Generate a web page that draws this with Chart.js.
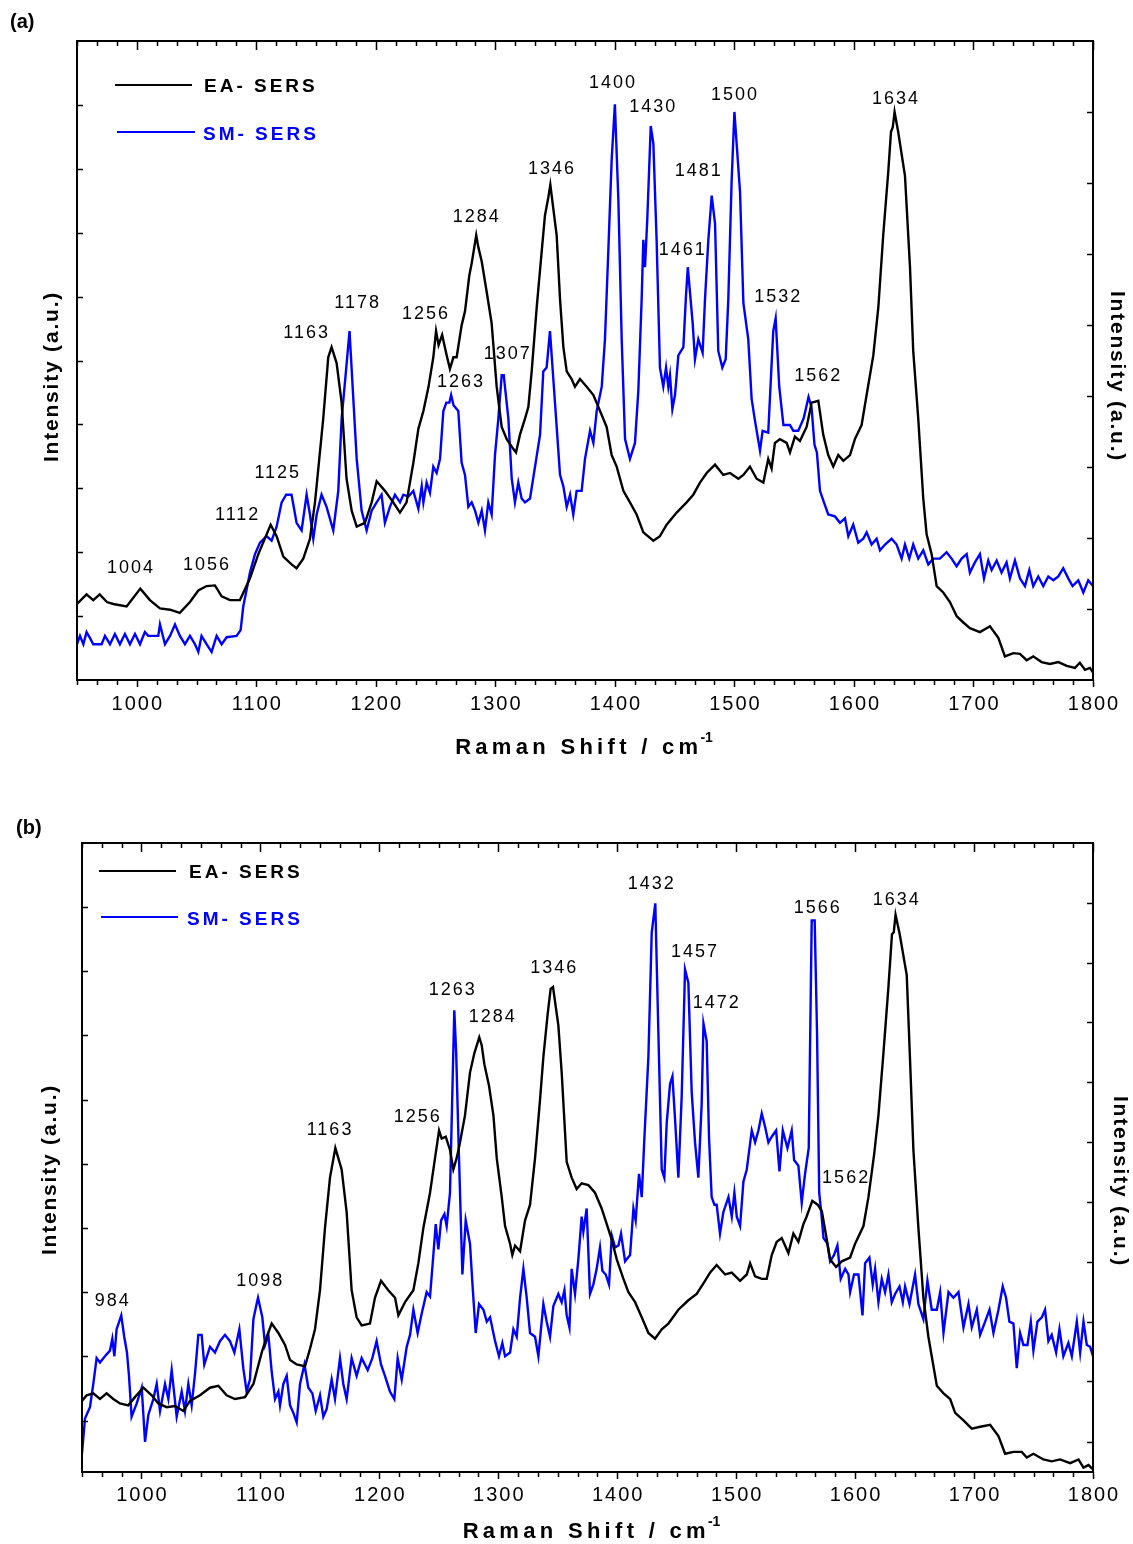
<!DOCTYPE html>
<html>
<head>
<meta charset="utf-8">
<title>Raman spectra</title>
<script src="https://cdn.jsdelivr.net/npm/chart.js@4/dist/chart.umd.min.js"></script>
<style>
  body { margin: 0; background: #fff; }
  .panel { position: absolute; left: 0; }
  #panelA { top: 0; }
  #panelB { top: 772px; }
</style>
</head>
<body>
<canvas id="panelA" class="panel" width="1133" height="772"></canvas>
<canvas id="panelB" class="panel" width="1133" height="772"></canvas>
<script>
// ---------- panel (a) ----------
let aEaX = [950, 958, 963.6, 969, 975, 980.4, 991.5, 1003, 1011, 1019.4, 1027.8, 1036, 1044.5, 1051.5, 1058.4, 1065.4, 1071, 1078, 1086.3, 1094.7,
  1101.7, 1112, 1117, 1122.6, 1129.5, 1133.7, 1139.3, 1144.9, 1149.1, 1156, 1160.2, 1163, 1167.2, 1171.4, 1175.5, 1179.8, 1184, 1190.9, 1196.5, 1200.7,
  1207.6, 1214.6, 1220.2, 1225.7, 1231.4, 1235.6, 1239.8, 1244, 1248.1, 1250.4, 1252.5, 1255.5, 1259.3, 1262, 1264.9, 1267.6, 1271.8, 1274.6, 1278.2, 1280.2,
  1284, 1285.8, 1288.6, 1292.7, 1296.9, 1301.1, 1305.3, 1309.5, 1313.7, 1317.3, 1320.6, 1324.8, 1327.6, 1330.4, 1334.6, 1338.8, 1341.5, 1344.3, 1346, 1351.3,
  1354.1, 1356.9, 1359.7, 1363.8, 1366.6, 1370.8, 1376.4, 1382, 1387.6, 1393.1, 1397.3, 1401.5, 1407.1, 1412.6, 1418.2, 1423.8, 1432.2, 1437.7, 1443.3, 1451.7,
  1460, 1465.6, 1471.2, 1476.8, 1483.8, 1490.7, 1496.3, 1503.3, 1507.5, 1513, 1518.6, 1524.2, 1528.3, 1531.1, 1533.9, 1538.1, 1543.7, 1546.5, 1550.6, 1554.8,
  1560.4, 1564.6, 1570.2, 1574.3, 1578.5, 1582.7, 1586.9, 1591.1, 1596.7, 1600.8, 1606.4, 1610.6, 1616.2, 1620.4, 1624.5, 1628.7, 1631, 1632.5, 1634, 1637,
  1642.7, 1646.9, 1649.6, 1653.8, 1658, 1660.8, 1665, 1669.2, 1674.7, 1680.3, 1685.9, 1691.5, 1697, 1705.4, 1713.8, 1720.8, 1726.3, 1733.3, 1738.9, 1744.5,
  1750, 1757, 1764, 1771, 1778, 1784.9, 1789, 1793.3, 1797.4, 1800]
let aEaY = [11.9, 13.4, 12.5, 13.4, 12.2, 11.9, 11.5, 14.3, 12.5, 11.2, 11.0, 10.5, 12.2, 14.0, 14.7, 14.8, 13.1, 12.5, 12.5, 15.9,
  19.7, 24.3, 22.5, 19.3, 18.1, 17.5, 19.0, 22.1, 27.8, 40.9, 50.5, 52.1, 49.6, 43.4, 31.5, 26.5, 24.0, 24.6, 27.8, 31.1,
  29.6, 27.8, 26.2, 27.8, 34.0, 39.3, 42.1, 45.8, 50.5, 54.6, 52.4, 54.0, 50.8, 48.7, 50.5, 50.5, 55.5, 57.7, 63.3, 65.2,
  69.6, 67.7, 65.5, 60.8, 55.8, 45.9, 39.6, 37.7, 36.5, 35.6, 38.4, 40.9, 42.7, 48.3, 58.3, 67.1, 72.7, 75.5, 77.5, 69.6,
  59.6, 52.1, 48.3, 47.1, 45.9, 47.1, 45.9, 44.6, 42.1, 39.6, 35.2, 33.4, 29.6, 27.8, 25.9, 23.1, 21.8, 22.5, 24.3, 26.2,
  27.8, 29.0, 30.9, 32.4, 33.7, 32.1, 32.4, 31.5, 32.1, 33.4, 31.5, 30.9, 34.6, 33.1, 37.1, 37.7, 37.1, 35.6, 38.1, 37.4,
  39.6, 43.4, 43.7, 38.4, 35.2, 33.4, 35.2, 34.3, 35.2, 37.7, 39.9, 44.6, 50.8, 58.3, 69.6, 79.5, 85.8, 86.5, 88.9, 85.8,
  78.9, 64.6, 51.5, 40.9, 28.4, 22.8, 19.7, 14.7, 13.7, 12.2, 10.0, 9.0, 8.1, 7.5, 8.4, 6.6, 3.7, 4.2, 4.1, 3.1,
  3.7, 2.8, 2.5, 2.8, 2.2, 1.9, 2.7, 1.6, 1.9, 1.2]

let aSmX = [950, 952.5, 955.3, 958, 960.8, 963.6, 970.6, 973.4, 977.6, 981.7, 985.9, 990.1, 994.3, 998.5, 1002.7, 1006.8, 1009.6, 1018, 1019.4, 1023.6,
  1027.8, 1032, 1036.1, 1040.3, 1044.5, 1048.7, 1051.5, 1054.2, 1058.4, 1062.6, 1066.8, 1071, 1075.2, 1083.5, 1086.9, 1089.1, 1094.7, 1098.9, 1103.1, 1108.6,
  1112.8, 1117, 1121.2, 1125, 1129.5, 1133.7, 1137.9, 1142.1, 1144.9, 1147.7, 1150.5, 1154.6, 1158.8, 1164.4, 1168.6, 1171.4, 1175, 1178, 1180.6, 1184,
  1188.1, 1192.3, 1196.5, 1200.7, 1204.8, 1207.6, 1211.8, 1216, 1220.2, 1223, 1227.2, 1231.4, 1235.6, 1238.4, 1239.8, 1242.5, 1245.3, 1248.1, 1250.9, 1253.7,
  1256.5, 1259, 1261.5, 1263, 1265, 1269, 1271.8, 1274.6, 1277.4, 1280.2, 1283, 1285.8, 1288.6, 1291.3, 1294.1, 1296.9, 1299.7, 1302.5, 1305.3, 1307,
  1310.9, 1313.7, 1316.4, 1319.2, 1322, 1324.8, 1329, 1333.2, 1337.4, 1340.1, 1342.9, 1345.7, 1348.5, 1351.3, 1354.1, 1356.9, 1359.7, 1362.5, 1365.2, 1368,
  1372.2, 1375, 1379.2, 1382, 1384.8, 1389, 1391.7, 1394.5, 1397.3, 1400, 1402.9, 1405.7, 1408.5, 1412.6, 1416.8, 1419.6, 1422.4, 1423.8, 1425.2, 1427.1,
  1430, 1432.2, 1434.9, 1437.7, 1440.5, 1442.8, 1444.7, 1446.1, 1448.1, 1450.3, 1453.1, 1457.3, 1459.5, 1461, 1465.1, 1467, 1469.8, 1473.4, 1475.4, 1478.2,
  1481, 1483.8, 1486.5, 1489.9, 1492.7, 1494.9, 1497.7, 1500, 1504.7, 1507.5, 1511.6, 1514.4, 1517.2, 1521.4, 1523.6, 1528.3, 1530.5, 1532.5, 1534.5, 1537.5,
  1541, 1546.5, 1549.3, 1553.4, 1556.2, 1558, 1562, 1564.5, 1567, 1569, 1571.6, 1574.9, 1578.5, 1584.1, 1588.3, 1592.5, 1595.3, 1599.4, 1603.6, 1607.8,
  1610.6, 1614.8, 1619, 1621.8, 1626, 1631.5, 1635.7, 1639.9, 1642.7, 1646.3, 1649.6, 1653.8, 1658, 1662.2, 1666.4, 1671.9, 1677.5, 1681.7, 1685.9, 1690.1,
  1694.3, 1697, 1701.2, 1705.4, 1708.8, 1712.4, 1715.2, 1719.4, 1723.5, 1727.7, 1730.5, 1734.7, 1738.9, 1743.1, 1746.7, 1750, 1754.2, 1758.4, 1762.6, 1766.8,
  1771, 1775.1, 1779.3, 1782.9, 1787.7, 1791.9, 1796, 1800]
let aSmY = [5.6, 6.9, 5.6, 7.5, 6.6, 5.6, 5.6, 6.9, 5.6, 7.2, 5.6, 7.2, 5.6, 7.2, 5.6, 7.5, 6.9, 6.9, 8.7, 5.6,
  6.9, 8.7, 6.9, 5.6, 6.9, 5.6, 4.4, 6.9, 5.6, 4.4, 6.9, 5.6, 6.7, 6.9, 7.8, 11.5, 16.8, 19.7, 21.5, 22.5,
  21.8, 24.0, 27.8, 29.0, 29.0, 24.6, 23.4, 29.0, 25.9, 22.1, 25.9, 29.0, 27.1, 23.4, 29.6, 40.9, 48.3, 54.6, 45.9, 34.6,
  26.5, 23.4, 26.5, 27.8, 29.0, 24.6, 27.1, 29.0, 27.8, 29.0, 28.7, 29.6, 26.8, 30.3, 27.8, 30.9, 29.3, 33.4, 32.4, 34.6,
  42.1, 43.4, 43.4, 44.6, 43.0, 42.1, 34.0, 32.1, 27.1, 27.8, 26.5, 24.6, 26.5, 23.4, 27.8, 25.9, 35.2, 40.9, 47.7, 47.7,
  40.9, 31.5, 27.8, 30.9, 28.4, 27.8, 28.4, 33.4, 38.4, 48.3, 48.9, 54.6, 47.1, 39.6, 32.1, 30.3, 27.1, 29.0, 25.9, 29.6,
  29.6, 34.6, 39.0, 37.1, 42.1, 45.9, 53.3, 67.1, 81.4, 90.1, 75.2, 53.3, 37.7, 34.6, 37.1, 45.2, 59.6, 68.9, 64.6, 72.1,
  86.7, 83.9, 68.9, 48.9, 45.9, 48.9, 45.9, 47.7, 42.4, 44.6, 50.8, 52.1, 60.2, 64.6, 55.8, 50.2, 53.3, 51.2, 59.6, 68.9,
  75.8, 71.4, 51.5, 48.9, 50.2, 59.6, 78.3, 88.9, 76.4, 59.0, 53.3, 44.0, 40.6, 35.9, 39.0, 38.7, 47.1, 54.6, 56.6, 45.9,
  39.9, 39.9, 39.0, 39.0, 40.2, 41.0, 44.3, 42.7, 36.8, 35.6, 29.6, 27.8, 25.9, 25.6, 24.6, 25.3, 22.5, 24.3, 21.5, 22.1,
  23.1, 21.2, 22.1, 20.3, 21.2, 22.1, 21.2, 19.0, 21.2, 19.0, 21.2, 19.0, 20.3, 18.1, 19.0, 19.0, 20.0, 19.0, 17.8, 19.0,
  19.7, 16.8, 18.4, 19.7, 15.9, 18.7, 17.2, 18.7, 16.8, 18.4, 15.9, 18.7, 15.9, 14.7, 17.2, 14.7, 16.2, 14.7, 16.2, 15.6,
  16.2, 17.5, 15.9, 14.7, 15.6, 13.7, 15.6, 14.7]

// peak labels: text, then where the label sits (cm-1, intensity)
let aPeaks = [['1004', 994.3, 17.6], ['1056', 1057.9, 18.0], ['1112', 1083.6, 25.8], ['1125', 1117.1, 32.4], ['1163', 1141.3, 54.3],
  ['1178', 1184, 59.0], ['1256', 1241.1, 57.2], ['1263', 1270.4, 46.6], ['1284', 1283.6, 72.5], ['1307', 1309.5, 51.0],
  ['1346', 1346.6, 80.0], ['1400', 1397.6, 93.5], ['1430', 1431.3, 89.7], ['1461', 1455.9, 67.3], ['1481', 1469.3, 79.6],
  ['1500', 1499.7, 91.5], ['1532', 1535.9, 59.9], ['1562', 1569.3, 47.6], ['1634', 1634.4, 90.9]]

// ---------- panel (b) ----------
let bEaX = [950, 953.9, 959.5, 965.1, 970.7, 976.3, 981.9, 988.9, 994.5, 1001.6, 1008.6, 1014.2, 1021.2, 1028.2, 1035.2, 1040.8, 1049.2, 1057.6, 1064.6, 1071.6,
  1078.6, 1087, 1094.1, 1101.1, 1105.3, 1109.5, 1115.1, 1120.7, 1124.9, 1130.5, 1137.5, 1141.7, 1145.9, 1150.1, 1154.3, 1158.5, 1163, 1168.3, 1172.5, 1176.7,
  1180.9, 1185.1, 1192.1, 1196.3, 1201.4, 1207.5, 1213.2, 1216, 1221.6, 1228.6, 1232.8, 1237, 1242.6, 1246.8, 1250.2, 1252.4, 1255.8, 1259.4, 1262.2, 1265,
  1267.8, 1272, 1276.2, 1279.9, 1284, 1286, 1288.3, 1292.2, 1295.9, 1298.7, 1302.9, 1305.7, 1309.9, 1311.8, 1314.1, 1318.3, 1322.5, 1326.7, 1330.9, 1335.1,
  1337.9, 1341.5, 1344, 1346, 1350.5, 1353.3, 1357.5, 1361.7, 1365.9, 1370.1, 1375.7, 1381.3, 1386.9, 1391.2, 1395.4, 1399.6, 1405.2, 1409.4, 1415, 1420.6,
  1426.2, 1431.8, 1437.4, 1443, 1451.4, 1459.8, 1466.8, 1473.8, 1478, 1483.6, 1490.7, 1496.3, 1503.3, 1508.9, 1511.7, 1515.9, 1521.5, 1525.7, 1529.9, 1534.1,
  1538.3, 1543.9, 1548.1, 1552.3, 1556.5, 1559, 1564, 1568.5, 1572, 1575.6, 1579, 1584, 1588.8, 1595.8, 1600, 1607, 1611.2, 1616, 1619.6, 1623.8,
  1628, 1631, 1632.5, 1634, 1637.5, 1643.4, 1646.2, 1649, 1653.2, 1657.4, 1661.6, 1664.4, 1668.7, 1674.3, 1679.9, 1684.1, 1691.1, 1698.1, 1705.1, 1713.5,
  1720.5, 1726.1, 1733.1, 1740.1, 1744.3, 1749.9, 1758.3, 1765.3, 1772.3, 1780.8, 1787.8, 1792, 1796.2, 1800]
let bEaY = [11.3, 12.2, 12.5, 11.6, 12.5, 11.6, 10.9, 10.6, 11.9, 13.4, 12.2, 10.9, 10.3, 10.5, 9.7, 11.3, 12.2, 13.4, 13.7, 12.2,
  11.6, 11.9, 14.0, 19.0, 21.5, 23.6, 22.1, 20.2, 17.8, 17.1, 16.8, 19.6, 22.7, 28.9, 38.8, 46.8, 51.5, 48.1, 41.3, 28.9,
  24.6, 23.3, 23.6, 27.7, 30.4, 28.9, 27.7, 24.9, 27.0, 28.9, 33.2, 38.8, 44.4, 49.9, 54.3, 53.0, 53.3, 51.2, 48.1, 49.9,
  52.4, 56.7, 63.5, 66.6, 69.1, 67.9, 64.8, 61.4, 56.7, 49.9, 43.7, 39.1, 36.3, 34.5, 36.0, 35.1, 40.0, 42.5, 49.9, 59.2,
  66.0, 72.8, 76.8, 77.1, 71.0, 63.5, 49.3, 46.8, 45.0, 45.9, 45.6, 44.4, 41.9, 39.4, 36.9, 33.8, 30.7, 28.6, 27.0, 24.6,
  22.1, 21.2, 22.7, 23.6, 25.8, 27.3, 28.3, 30.4, 31.7, 32.9, 31.4, 31.7, 30.4, 31.4, 33.2, 31.1, 30.7, 30.7, 34.5, 36.6,
  37.2, 34.8, 37.9, 36.6, 39.4, 40.5, 43.1, 42.5, 41.5, 37.6, 33.8, 32.6, 33.5, 34.1, 36.3, 39.1, 43.7, 50.5, 56.7, 66.6,
  77.1, 85.5, 85.8, 88.6, 85.5, 79.0, 65.4, 51.2, 38.8, 27.7, 21.5, 18.4, 13.7, 12.5, 11.6, 9.4, 8.2, 6.9, 7.2, 7.5,
  5.7, 2.9, 3.2, 3.2, 2.3, 2.9, 2.0, 1.7, 2.0, 1.4, 2.0, 0.7, 1.1, 0.4]

let bSmX = [950, 952.5, 956.7, 959.5, 962.3, 965.1, 969.3, 973.5, 975.5, 977.2, 979.1, 983, 985.5, 987.8, 989.5, 991.7, 996, 1000.2, 1003, 1005.8,
  1010, 1012.8, 1015.6, 1019.8, 1022.6, 1025.4, 1029.6, 1033.8, 1036.6, 1039.4, 1042.2, 1045, 1047.8, 1050.6, 1052.8, 1057.6, 1061.8, 1066, 1070.2, 1074.4,
  1078.1, 1082.3, 1085.6, 1088.4, 1091.2, 1094.1, 1096.8, 1098, 1101.6, 1103.9, 1106.7, 1109.5, 1112.3, 1115.1, 1116.5, 1119.3, 1122.1, 1124.9, 1127.7, 1130.5,
  1133.3, 1137, 1140.3, 1143.7, 1146.5, 1150.1, 1152.9, 1155.7, 1159.9, 1162.7, 1166.9, 1169.7, 1172.5, 1176.7, 1180.9, 1185.1, 1190.2, 1194.1, 1197.7, 1201.4,
  1204.7, 1208.9, 1212.6, 1215.4, 1218.8, 1223, 1225.8, 1228.6, 1232.2, 1235.6, 1239.8, 1242.6, 1245.4, 1247.4, 1249.6, 1251.9, 1254.7, 1256.6, 1259.4, 1263,
  1264.6, 1266.6, 1269.8, 1272.6, 1276.2, 1278.2, 1281, 1283.8, 1287.5, 1290.3, 1293.1, 1297.3, 1300.6, 1303.4, 1305.7, 1309.9, 1312.7, 1315.5, 1318.3, 1321.1,
  1323.9, 1326.7, 1330.9, 1333.7, 1337.9, 1340.7, 1343.5, 1346.3, 1350.5, 1353.3, 1355.6, 1357.5, 1359.8, 1361.7, 1364.5, 1367.3, 1370.1, 1371.5, 1374.3, 1377.1,
  1379.9, 1382.7, 1385.5, 1387.5, 1390.3, 1393.1, 1395.4, 1398.2, 1401, 1403.2, 1406.6, 1410.8, 1413.6, 1415.5, 1418.3, 1420.6, 1422.8, 1426.2, 1429, 1432,
  1434.6, 1437.4, 1439.6, 1441.6, 1444.4, 1446.4, 1448.6, 1451.4, 1454.2, 1457, 1459.8, 1462.6, 1465.4, 1468.2, 1471, 1472.5, 1475.2, 1477.2, 1479.4, 1481.7,
  1483.6, 1486.4, 1489.2, 1493.5, 1496.3, 1498.5, 1500.5, 1503.3, 1506.1, 1508.9, 1513.1, 1515.9, 1518.7, 1521.5, 1524.3, 1527.1, 1529.9, 1533.6, 1536.4, 1539.2,
  1543.1, 1546.7, 1548.7, 1552.3, 1555.1, 1557.9, 1561, 1563.5, 1566, 1568, 1569.8, 1571.5, 1573.4, 1576.7, 1579, 1582.3, 1585.1, 1587.9, 1591.6, 1594.4,
  1595.8, 1599.1, 1602.8, 1606.2, 1608.4, 1612, 1614.8, 1616.8, 1619.6, 1622.4, 1625.2, 1628, 1630.8, 1633.6, 1637.3, 1640.1, 1642, 1645.7, 1650.4, 1653.2,
  1657.4, 1660.8, 1664.4, 1668.7, 1671.5, 1674.3, 1678.5, 1682.7, 1686.9, 1691.1, 1695.3, 1698.1, 1702.3, 1705.1, 1709.3, 1713, 1716.3, 1720.5, 1724.1, 1726.9,
  1729.7, 1733.1, 1735.9, 1738.7, 1741.5, 1744.9, 1747.7, 1749.9, 1753.3, 1757, 1759.7, 1762.5, 1765.3, 1769, 1771.8, 1775.1, 1779.3, 1782.2, 1786.4, 1789.2,
  1792, 1794.8, 1797.6, 1800]
let bSmY = [2.9, 8.5, 10.3, 14.0, 18.1, 17.4, 18.4, 19.3, 21.2, 18.4, 22.7, 24.9, 21.5, 19.0, 15.3, 8.8, 10.9, 13.4, 4.8, 9.1,
  11.6, 14.0, 9.7, 14.0, 11.6, 16.2, 8.8, 12.8, 9.7, 14.0, 10.6, 15.6, 21.8, 21.8, 17.1, 19.9, 19.0, 20.8, 21.8, 20.8,
  19.0, 22.7, 16.5, 12.8, 14.7, 24.3, 26.7, 27.7, 24.6, 20.2, 21.8, 15.9, 11.6, 12.8, 10.6, 14.0, 15.3, 10.6, 9.4, 7.9,
  14.0, 17.1, 13.4, 12.5, 9.7, 12.2, 8.8, 10.0, 14.7, 11.6, 18.1, 14.0, 11.6, 18.1, 15.3, 18.1, 16.2, 18.1, 20.8, 17.1,
  15.3, 12.8, 11.6, 18.1, 14.7, 19.9, 21.8, 25.8, 22.1, 25.2, 28.6, 27.9, 34.5, 39.4, 35.4, 40.0, 41.0, 39.1, 44.4, 73.4,
  66.6, 52.4, 31.4, 40.0, 36.3, 30.1, 22.1, 26.7, 25.8, 23.9, 24.6, 20.8, 18.4, 20.5, 18.4, 19.0, 22.7, 21.5, 27.7, 32.3,
  27.7, 22.1, 21.5, 18.4, 26.7, 23.9, 21.5, 26.4, 28.3, 27.0, 28.9, 24.9, 23.0, 32.3, 28.3, 33.8, 40.6, 38.2, 41.9, 28.3,
  29.8, 32.3, 35.7, 32.0, 31.4, 29.8, 37.6, 35.7, 36.0, 37.9, 33.5, 34.5, 41.9, 40.0, 47.4, 43.7, 53.0, 66.0, 85.8, 90.4,
  69.7, 48.1, 46.8, 55.5, 61.7, 62.9, 56.1, 46.8, 59.8, 79.9, 77.8, 60.4, 52.4, 46.8, 58.6, 71.3, 68.5, 53.0, 43.7, 42.5,
  42.5, 37.9, 41.3, 43.7, 40.6, 44.4, 40.6, 39.1, 46.2, 48.1, 54.3, 52.4, 54.3, 57.0, 54.9, 52.4, 53.3, 54.3, 47.8, 54.3,
  51.5, 54.3, 49.6, 48.7, 42.8, 47.4, 51.5, 87.7, 87.7, 69.7, 44.4, 41.3, 37.2, 36.3, 33.5, 34.5, 36.0, 30.7, 32.3, 31.4,
  28.6, 31.4, 31.4, 24.9, 33.2, 34.1, 29.8, 32.3, 27.0, 30.7, 28.6, 31.4, 27.0, 28.3, 29.5, 27.0, 29.5, 26.7, 31.4, 26.7,
  24.3, 30.4, 25.8, 25.8, 28.6, 22.1, 28.6, 27.7, 28.6, 23.0, 26.7, 23.0, 25.8, 21.8, 23.9, 25.8, 22.1, 25.8, 29.5, 27.7,
  23.9, 23.6, 16.5, 22.1, 20.2, 20.2, 23.9, 19.3, 23.9, 24.6, 25.8, 20.8, 21.8, 19.0, 22.7, 18.4, 20.5, 18.4, 23.9, 19.0,
  23.9, 20.2, 19.9, 18.4]

let bPeaks = [['984', 975, 27.2], ['1098', 1099.1, 30.3], ['1163', 1157.7, 54.3], ['1256', 1231.4, 56.4], ['1263', 1260.8, 76.7],
  ['1284', 1294.5, 72.3], ['1346', 1346.3, 80.1], ['1432', 1428.1, 93.4], ['1457', 1464.6, 82.6], ['1472', 1482.8, 74.5],
  ['1566', 1567.7, 89.7], ['1562', 1591.6, 46.7], ['1634', 1634.1, 90.9]]

// axis ticks
let xLabels = [1000, 1100, 1200, 1300, 1400, 1500, 1600, 1700, 1800]
let aLeftTicks = [10, 20, 30, 40, 50, 60, 70, 80, 90]
let aRightTicks = [11.1, 22.2, 33.3, 44.4, 55.6, 66.7, 77.8, 88.9]
let bLeftTicks = [8.1, 18.4, 28.6, 38.8, 49.0, 59.1, 69.5, 79.7, 89.8]
let bRightTicks = [4.8, 14.4, 23.9, 33.4, 43, 52.5, 62, 71.5, 81, 90.5]

let FONT = "'Liberation Sans', Arial, sans-serif"

function pts(xs, ys) {
    return xs.map((x, i) => ({ x: x, y: ys[i] }))
}

function spaced(ctx, text, x, y, align) {
    // canvas letterSpacing also pads after the last glyph, take it back off when centring
    let w = ctx.measureText(text).width
    let sp = parseFloat(ctx.letterSpacing) || 0
    let start = x
    if (align == 'center') start = x - (w - sp) / 2
    ctx.textAlign = 'left'
    ctx.fillText(text, start, y)
    return w
}

// frame, ticks and all the text are drawn on top of the lines
let spectrumFrame = {
    id: 'spectrumFrame',
    afterDatasetsDraw(chart, args, o) {
        let ctx = chart.ctx
        let a = chart.chartArea
        let sx = chart.scales.x
        let sy = chart.scales.y
        ctx.save()
        ctx.strokeStyle = '#000'
        ctx.fillStyle = '#000'

        ctx.lineWidth = 2
        ctx.strokeRect(a.left, a.top, a.right - a.left, a.bottom - a.top)

        ctx.lineWidth = 1.5
        ctx.beginPath()
        for (let k = 0; k <= 51; k++) {
            let v = 950 + k * 100 / 6
            let major = (k - 3) % 6 == 0
            let px = Math.round(sx.getPixelForValue(v)) + 0.5
            ctx.moveTo(px, a.top)
            ctx.lineTo(px, a.top + (major ? 9 : 5))
            ctx.moveTo(px, a.bottom)
            ctx.lineTo(px, a.bottom + (major ? 7 : 5))
        }
        o.leftTicks.forEach(v => {
            let py = Math.round(sy.getPixelForValue(v)) + 0.5
            ctx.moveTo(a.left, py)
            ctx.lineTo(a.left + 6, py)
        })
        o.rightTicks.forEach(v => {
            let py = Math.round(sy.getPixelForValue(v)) + 0.5
            ctx.moveTo(a.right - 6, py)
            ctx.lineTo(a.right, py)
        })
        ctx.stroke()

        ctx.textBaseline = 'middle'

        // tick labels
        ctx.font = '20px ' + FONT
        ctx.letterSpacing = '2px'
        xLabels.forEach(v => spaced(ctx, String(v), sx.getPixelForValue(v), a.bottom + o.tickGap, 'center'))

        // x title with superscript
        ctx.font = 'bold 22px ' + FONT
        ctx.letterSpacing = '4.3px'
        let main = 'Raman Shift / cm'
        let w1 = ctx.measureText(main).width
        ctx.font = 'bold 14px ' + FONT
        ctx.letterSpacing = '0px'
        let w2 = ctx.measureText('-1').width
        let cx = (a.left + a.right) / 2 + o.titleShift
        let tx = cx - (w1 + w2) / 2
        let ty = a.bottom + o.titleGap
        ctx.font = 'bold 22px ' + FONT
        ctx.letterSpacing = '4.3px'
        ctx.fillText(main, tx, ty)
        ctx.font = 'bold 14px ' + FONT
        ctx.letterSpacing = '0px'
        ctx.fillText('-1', tx + w1 - 2, ty - 10)

        // y titles, left reads upwards, right reads downwards
        ctx.font = 'bold 21px ' + FONT
        ctx.letterSpacing = '1.8px'
        let mid = (a.top + a.bottom) / 2
        ctx.save()
        ctx.translate(a.left - o.yLeft[0], mid + o.yLeft[1])
        ctx.rotate(-Math.PI / 2)
        spaced(ctx, 'Intensity (a.u.)', 0, 0, 'center')
        ctx.restore()
        ctx.save()
        ctx.translate(a.right + o.yRight[0], mid + o.yRight[1])
        ctx.rotate(Math.PI / 2)
        spaced(ctx, 'Intensity (a.u.)', 0, 0, 'center')
        ctx.restore()

        // panel tag
        ctx.font = 'bold 20px ' + FONT
        ctx.letterSpacing = '0px'
        ctx.fillText(o.tag, o.tagPos[0], o.tagPos[1])

        // legend, one row per dataset
        chart.data.datasets.forEach((ds, i) => {
            let row = o.legend[i]
            ctx.strokeStyle = ds.borderColor
            ctx.lineWidth = 2
            ctx.beginPath()
            ctx.moveTo(a.left + row[0], a.top + row[2])
            ctx.lineTo(a.left + row[1], a.top + row[2])
            ctx.stroke()
            ctx.fillStyle = ds.borderColor
            ctx.font = 'bold 19px ' + FONT
            ctx.letterSpacing = '3px'
            ctx.fillText(ds.label, a.left + row[3], a.top + row[4])
        })

        // peak positions
        ctx.fillStyle = '#000'
        ctx.font = '18px ' + FONT
        ctx.letterSpacing = '2px'
        o.peaks.forEach(p => spaced(ctx, p[0], sx.getPixelForValue(p[1]), sy.getPixelForValue(p[2]), 'center'))

        ctx.restore()
    }
}

function drawPanel(id, ea, sm, frame, pad) {
    return new Chart(document.getElementById(id), {
        type: 'line',
        data: {
            datasets: [
                { label: 'EA- SERS', data: ea, borderColor: '#000000', borderWidth: 2.4, pointRadius: 0, tension: 0 },
                { label: 'SM- SERS', data: sm, borderColor: '#0000ff', borderWidth: 2.4, pointRadius: 0, tension: 0 }
            ]
        },
        options: {
            responsive: false,
            animation: false,
            devicePixelRatio: 1,
            layout: { padding: pad },
            scales: {
                x: { type: 'linear', min: 950, max: 1800, display: false },
                y: { min: 0, max: 100, display: false }
            },
            plugins: {
                legend: { display: false },
                tooltip: { enabled: false },
                spectrumFrame: frame
            }
        },
        plugins: [spectrumFrame]
    })
}

drawPanel('panelA', pts(aEaX, aEaY), pts(aSmX, aSmY), {
    tag: '(a)', tagPos: [10, 22],
    peaks: aPeaks, leftTicks: aLeftTicks, rightTicks: aRightTicks,
    tickGap: 24, titleGap: 68, titleShift: 0,
    yLeft: [25, 16], yRight: [24, 16],
    legend: [[38, 115, 44, 127, 46], [40, 118, 91, 126, 94]]
}, { left: 77, top: 41, right: 40, bottom: 92 })

drawPanel('panelB', pts(bEaX, bEaY), pts(bSmX, bSmY), {
    tag: '(b)', tagPos: [16, 56],
    peaks: bPeaks, leftTicks: bLeftTicks, rightTicks: bRightTicks,
    tickGap: 23, titleGap: 60, titleShift: 5,
    yLeft: [32, 12], yRight: [27, 24],
    legend: [[17, 94, 28, 107, 30], [19, 96, 74, 105, 77]]
}, { left: 82, top: 71, right: 40, bottom: 72 })
</script>
</body>
</html>
